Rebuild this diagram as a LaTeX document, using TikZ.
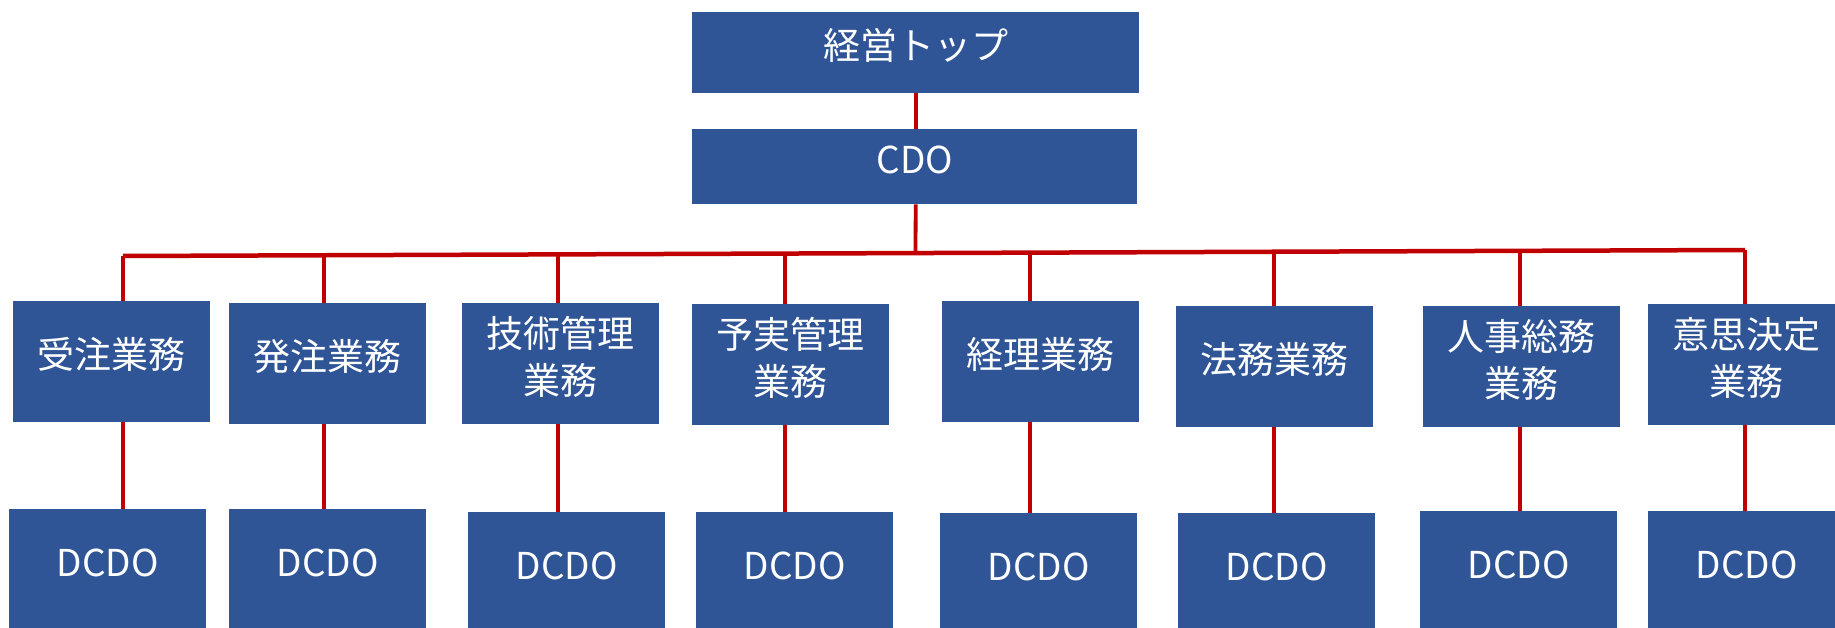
\documentclass[tikz,border=0pt]{standalone}
\usepackage{fontspec}
\setmainfont{Noto Sans CJK JP}
\definecolor{boxblue}{HTML}{2F5597}
\definecolor{linered}{HTML}{C00000}
\newcommand{\lbl}[1]{\raisebox{2.5pt}[\height][\depth]{\begin{tabular}{@{}c@{}}#1\end{tabular}}}
\begin{document}
\begin{tikzpicture}[x=1pt,y=-1pt,
  box/.style={fill=boxblue, draw=none, text=white, inner sep=0pt, align=center,
    font=\fontsize{37}{47}\selectfont, anchor=north west,
    minimum width=197pt, minimum height=121pt},
  barline/.style={draw=linered, line width=4.5pt},
  link/.style={draw=linered, line width=3.8pt}]
\clip (0,0) rectangle (1835,628);
% top level
\node[box, minimum width=447pt, minimum height=81pt] (top) at (692,12) {\lbl{経営トップ}};
\node[box, minimum width=445pt, minimum height=75pt] (cdo) at (692,129) {\lbl{CDO}};
% second row
\node[box] (r1) at (13,301) {\lbl{受注業務}};
\node[box] (r2) at (229,303) {\lbl{発注業務}};
\node[box] (r3) at (462,303) {\lbl{技術管理\\業務}};
\node[box] (r4) at (692,304) {\lbl{予実管理\\業務}};
\node[box] (r5) at (942,301) {\lbl{経理業務}};
\node[box] (r6) at (1176,306) {\lbl{法務業務}};
\node[box] (r7) at (1423,306) {\lbl{人事総務\\業務}};
\node[box] (r8) at (1648,304) {\lbl{意思決定\\業務}};
% third row
\node[box] (d1) at (9,509) {\lbl{DCDO}};
\node[box] (d2) at (229,509) {\lbl{DCDO}};
\node[box] (d3) at (468,512) {\lbl{DCDO}};
\node[box] (d4) at (696,512) {\lbl{DCDO}};
\node[box] (d5) at (940,513) {\lbl{DCDO}};
\node[box] (d6) at (1178,513) {\lbl{DCDO}};
\node[box] (d7) at (1420,511) {\lbl{DCDO}};
\node[box] (d8) at (1648,511) {\lbl{DCDO}};
% bar coordinates
\coordinate (t1) at (123,256);
\coordinate (t2) at (324,255.3);
\coordinate (t3) at (558,254.4);
\coordinate (t4) at (785,253.6);
\coordinate (t5) at (1030,252.6);
\coordinate (t6) at (1274,251.7);
\coordinate (t7) at (1520,250.8);
\coordinate (t8) at (1745,250);
\coordinate (hub) at (915.5,254);
% connectors
\draw[link] (top.south) -- (top.south |- cdo.north);
\draw[link] (top.south |- cdo.south) -- (hub);
\draw[barline] (t1) -- (t8);
\foreach \i in {1,...,8}{
  \draw[link] (t\i) -- (t\i |- r\i.north);
  \draw[link] (t\i |- r\i.south) -- (t\i |- d\i.north);
}
\end{tikzpicture}
\end{document}
